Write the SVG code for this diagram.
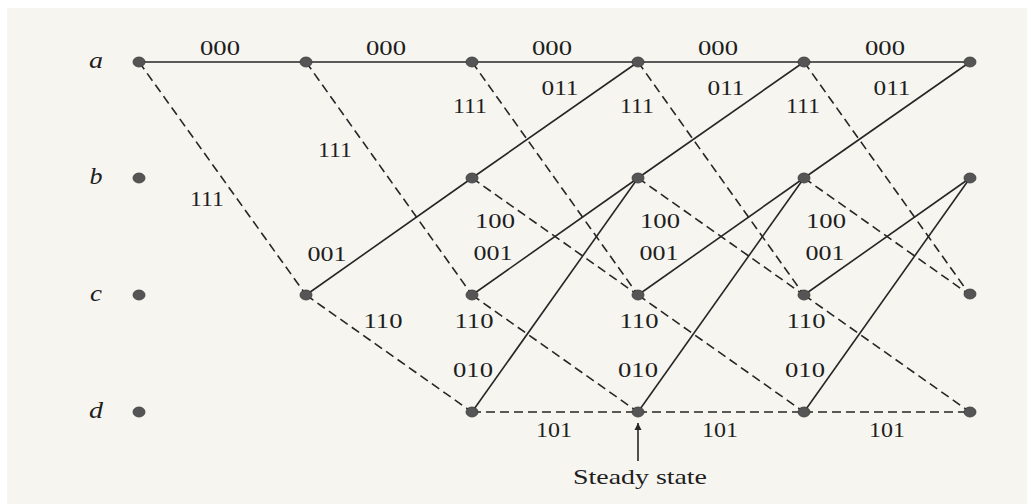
<svg xmlns="http://www.w3.org/2000/svg" width="1027" height="504" viewBox="0 0 1027 504">
<defs>
<style>
.s{stroke:#262626;stroke-width:1.6;fill:none}
.d{stroke:#262626;stroke-width:1.6;fill:none;stroke-dasharray:9 5}
.n{fill:#555555;stroke:#3a3a3a;stroke-width:0.8}
.t{font-family:"Liberation Serif","Times New Roman",serif;font-size:21px;fill:#1e1e1e;text-anchor:middle}
.r{font-family:"Liberation Serif","Times New Roman",serif;font-size:23px;font-style:italic;fill:#1e1e1e;text-anchor:middle}
</style>
<marker id="ah" viewBox="0 0 10 10" refX="10" refY="5" markerWidth="7" markerHeight="10" markerUnits="userSpaceOnUse" orient="auto">
<path d="M0,0 L10,5 L0,10 z" fill="#262626"/>
</marker>
</defs>
<rect x="0" y="0" width="1027" height="504" fill="#ffffff"/>
<rect x="7" y="8" width="1020" height="496" fill="#f6f5f0"/>

<g id="connectors">
<!-- a-a solid 000 -->
<line class="s" x1="139" y1="62" x2="306" y2="62"/>
<line class="s" x1="306" y1="62" x2="472" y2="62"/>
<line class="s" x1="472" y1="62" x2="638" y2="62"/>
<line class="s" x1="638" y1="62" x2="804" y2="62"/>
<line class="s" x1="804" y1="62" x2="970" y2="62"/>
<!-- a-c dashed 111 -->
<line class="d" x1="139" y1="62" x2="306" y2="295"/>
<line class="d" x1="306" y1="62" x2="472" y2="295"/>
<line class="d" x1="472" y1="62" x2="638" y2="295"/>
<line class="d" x1="638" y1="62" x2="804" y2="295"/>
<line class="d" x1="804" y1="62" x2="970" y2="295"/>
<!-- c-b solid 001 -->
<line class="s" x1="306" y1="295" x2="472" y2="178"/>
<line class="s" x1="472" y1="295" x2="638" y2="178"/>
<line class="s" x1="638" y1="295" x2="804" y2="178"/>
<line class="s" x1="804" y1="295" x2="970" y2="178"/>
<!-- c-d dashed 110 -->
<line class="d" x1="306" y1="295" x2="472" y2="412"/>
<line class="d" x1="472" y1="295" x2="638" y2="412"/>
<line class="d" x1="638" y1="295" x2="804" y2="412"/>
<line class="d" x1="804" y1="295" x2="970" y2="412"/>
<!-- b-a solid 011 -->
<line class="s" x1="472" y1="178" x2="638" y2="62"/>
<line class="s" x1="638" y1="178" x2="804" y2="62"/>
<line class="s" x1="804" y1="178" x2="970" y2="62"/>
<!-- b-c dashed 100 -->
<line class="d" x1="472" y1="178" x2="638" y2="295"/>
<line class="d" x1="638" y1="178" x2="804" y2="295"/>
<line class="d" x1="804" y1="178" x2="970" y2="295"/>
<!-- d-b solid 010 -->
<line class="s" x1="472" y1="412" x2="638" y2="178"/>
<line class="s" x1="638" y1="412" x2="804" y2="178"/>
<line class="s" x1="804" y1="412" x2="970" y2="178"/>
<!-- d-d dashed 101 -->
<line class="d" x1="472" y1="412" x2="638" y2="412"/>
<line class="d" x1="638" y1="412" x2="804" y2="412"/>
<line class="d" x1="804" y1="412" x2="970" y2="412"/>
<!-- steady state arrow -->
<line class="s" x1="638" y1="461" x2="638" y2="423" marker-end="url(#ah)"/>
</g>

<g id="row-labels">
<text class="r" x="96" y="68" textLength="14" lengthAdjust="spacingAndGlyphs">a</text>
<text class="r" x="96" y="184" textLength="13" lengthAdjust="spacingAndGlyphs">b</text>
<text class="r" x="96" y="301" textLength="12" lengthAdjust="spacingAndGlyphs">c</text>
<text class="r" x="96" y="418" textLength="14" lengthAdjust="spacingAndGlyphs">d</text>
</g>

<g id="nodes">
<g id="a0"><ellipse class="n" cx="139" cy="62" rx="6" ry="5"/></g>
<g id="b0"><ellipse class="n" cx="139" cy="178" rx="6" ry="5"/></g>
<g id="c0"><ellipse class="n" cx="139" cy="295" rx="6" ry="5"/></g>
<g id="d0"><ellipse class="n" cx="139" cy="412" rx="6" ry="5"/></g>
<g id="a1"><ellipse class="n" cx="306" cy="62" rx="6" ry="5"/></g>
<g id="c1"><ellipse class="n" cx="306" cy="295" rx="6" ry="5"/></g>
<g id="a2"><ellipse class="n" cx="472" cy="62" rx="6" ry="5"/></g>
<g id="b2"><ellipse class="n" cx="472" cy="178" rx="6" ry="5"/></g>
<g id="c2"><ellipse class="n" cx="472" cy="295" rx="6" ry="5"/></g>
<g id="d2"><ellipse class="n" cx="472" cy="412" rx="6" ry="5"/></g>
<g id="a3"><ellipse class="n" cx="638" cy="62" rx="6" ry="5"/></g>
<g id="b3"><ellipse class="n" cx="638" cy="178" rx="6" ry="5"/></g>
<g id="c3"><ellipse class="n" cx="638" cy="295" rx="6" ry="5"/></g>
<g id="d3"><ellipse class="n" cx="638" cy="412" rx="6" ry="5"/></g>
<g id="a4"><ellipse class="n" cx="804" cy="62" rx="6" ry="5"/></g>
<g id="b4"><ellipse class="n" cx="804" cy="178" rx="6" ry="5"/></g>
<g id="c4"><ellipse class="n" cx="804" cy="295" rx="6" ry="5"/></g>
<g id="d4"><ellipse class="n" cx="804" cy="412" rx="6" ry="5"/></g>
<g id="a5"><ellipse class="n" cx="970" cy="62" rx="6" ry="5"/></g>
<g id="b5"><ellipse class="n" cx="970" cy="178" rx="6" ry="5"/></g>
<g id="c5"><ellipse class="n" cx="970" cy="294" rx="6" ry="5"/></g>
<g id="d5"><ellipse class="n" cx="970" cy="412" rx="6" ry="5"/></g>
</g>

<g id="edge-labels">
<text class="t" x="220" y="55" textLength="40" lengthAdjust="spacingAndGlyphs">000</text>
<text class="t" x="386" y="55" textLength="40" lengthAdjust="spacingAndGlyphs">000</text>
<text class="t" x="552" y="55" textLength="40" lengthAdjust="spacingAndGlyphs">000</text>
<text class="t" x="718" y="55" textLength="40" lengthAdjust="spacingAndGlyphs">000</text>
<text class="t" x="885" y="55" textLength="40" lengthAdjust="spacingAndGlyphs">000</text>

<text class="t" x="207" y="206" textLength="34" lengthAdjust="spacingAndGlyphs">111</text>
<text class="t" x="335" y="157" textLength="34" lengthAdjust="spacingAndGlyphs">111</text>
<text class="t" x="470" y="113" textLength="34" lengthAdjust="spacingAndGlyphs">111</text>
<text class="t" x="637" y="113" textLength="34" lengthAdjust="spacingAndGlyphs">111</text>
<text class="t" x="803" y="113" textLength="34" lengthAdjust="spacingAndGlyphs">111</text>

<text class="t" x="560" y="95" textLength="37" lengthAdjust="spacingAndGlyphs">011</text>
<text class="t" x="726" y="95" textLength="37" lengthAdjust="spacingAndGlyphs">011</text>
<text class="t" x="892" y="95" textLength="37" lengthAdjust="spacingAndGlyphs">011</text>

<text class="t" x="495" y="228" textLength="40" lengthAdjust="spacingAndGlyphs">100</text>
<text class="t" x="660" y="228" textLength="40" lengthAdjust="spacingAndGlyphs">100</text>
<text class="t" x="826" y="228" textLength="40" lengthAdjust="spacingAndGlyphs">100</text>

<text class="t" x="327" y="261" textLength="39" lengthAdjust="spacingAndGlyphs">001</text>
<text class="t" x="493" y="260" textLength="39" lengthAdjust="spacingAndGlyphs">001</text>
<text class="t" x="659" y="260" textLength="39" lengthAdjust="spacingAndGlyphs">001</text>
<text class="t" x="825" y="260" textLength="39" lengthAdjust="spacingAndGlyphs">001</text>

<text class="t" x="383" y="328" textLength="39" lengthAdjust="spacingAndGlyphs">110</text>
<text class="t" x="474" y="328" textLength="39" lengthAdjust="spacingAndGlyphs">110</text>
<text class="t" x="639" y="328" textLength="39" lengthAdjust="spacingAndGlyphs">110</text>
<text class="t" x="806" y="328" textLength="39" lengthAdjust="spacingAndGlyphs">110</text>

<text class="t" x="473" y="377" textLength="40" lengthAdjust="spacingAndGlyphs">010</text>
<text class="t" x="638" y="377" textLength="40" lengthAdjust="spacingAndGlyphs">010</text>
<text class="t" x="805" y="377" textLength="40" lengthAdjust="spacingAndGlyphs">010</text>

<text class="t" x="554" y="437" textLength="36" lengthAdjust="spacingAndGlyphs">101</text>
<text class="t" x="720" y="437" textLength="36" lengthAdjust="spacingAndGlyphs">101</text>
<text class="t" x="887" y="437" textLength="36" lengthAdjust="spacingAndGlyphs">101</text>

<text class="t" x="640" y="484" textLength="134" lengthAdjust="spacingAndGlyphs">Steady state</text>
</g>
</svg>
